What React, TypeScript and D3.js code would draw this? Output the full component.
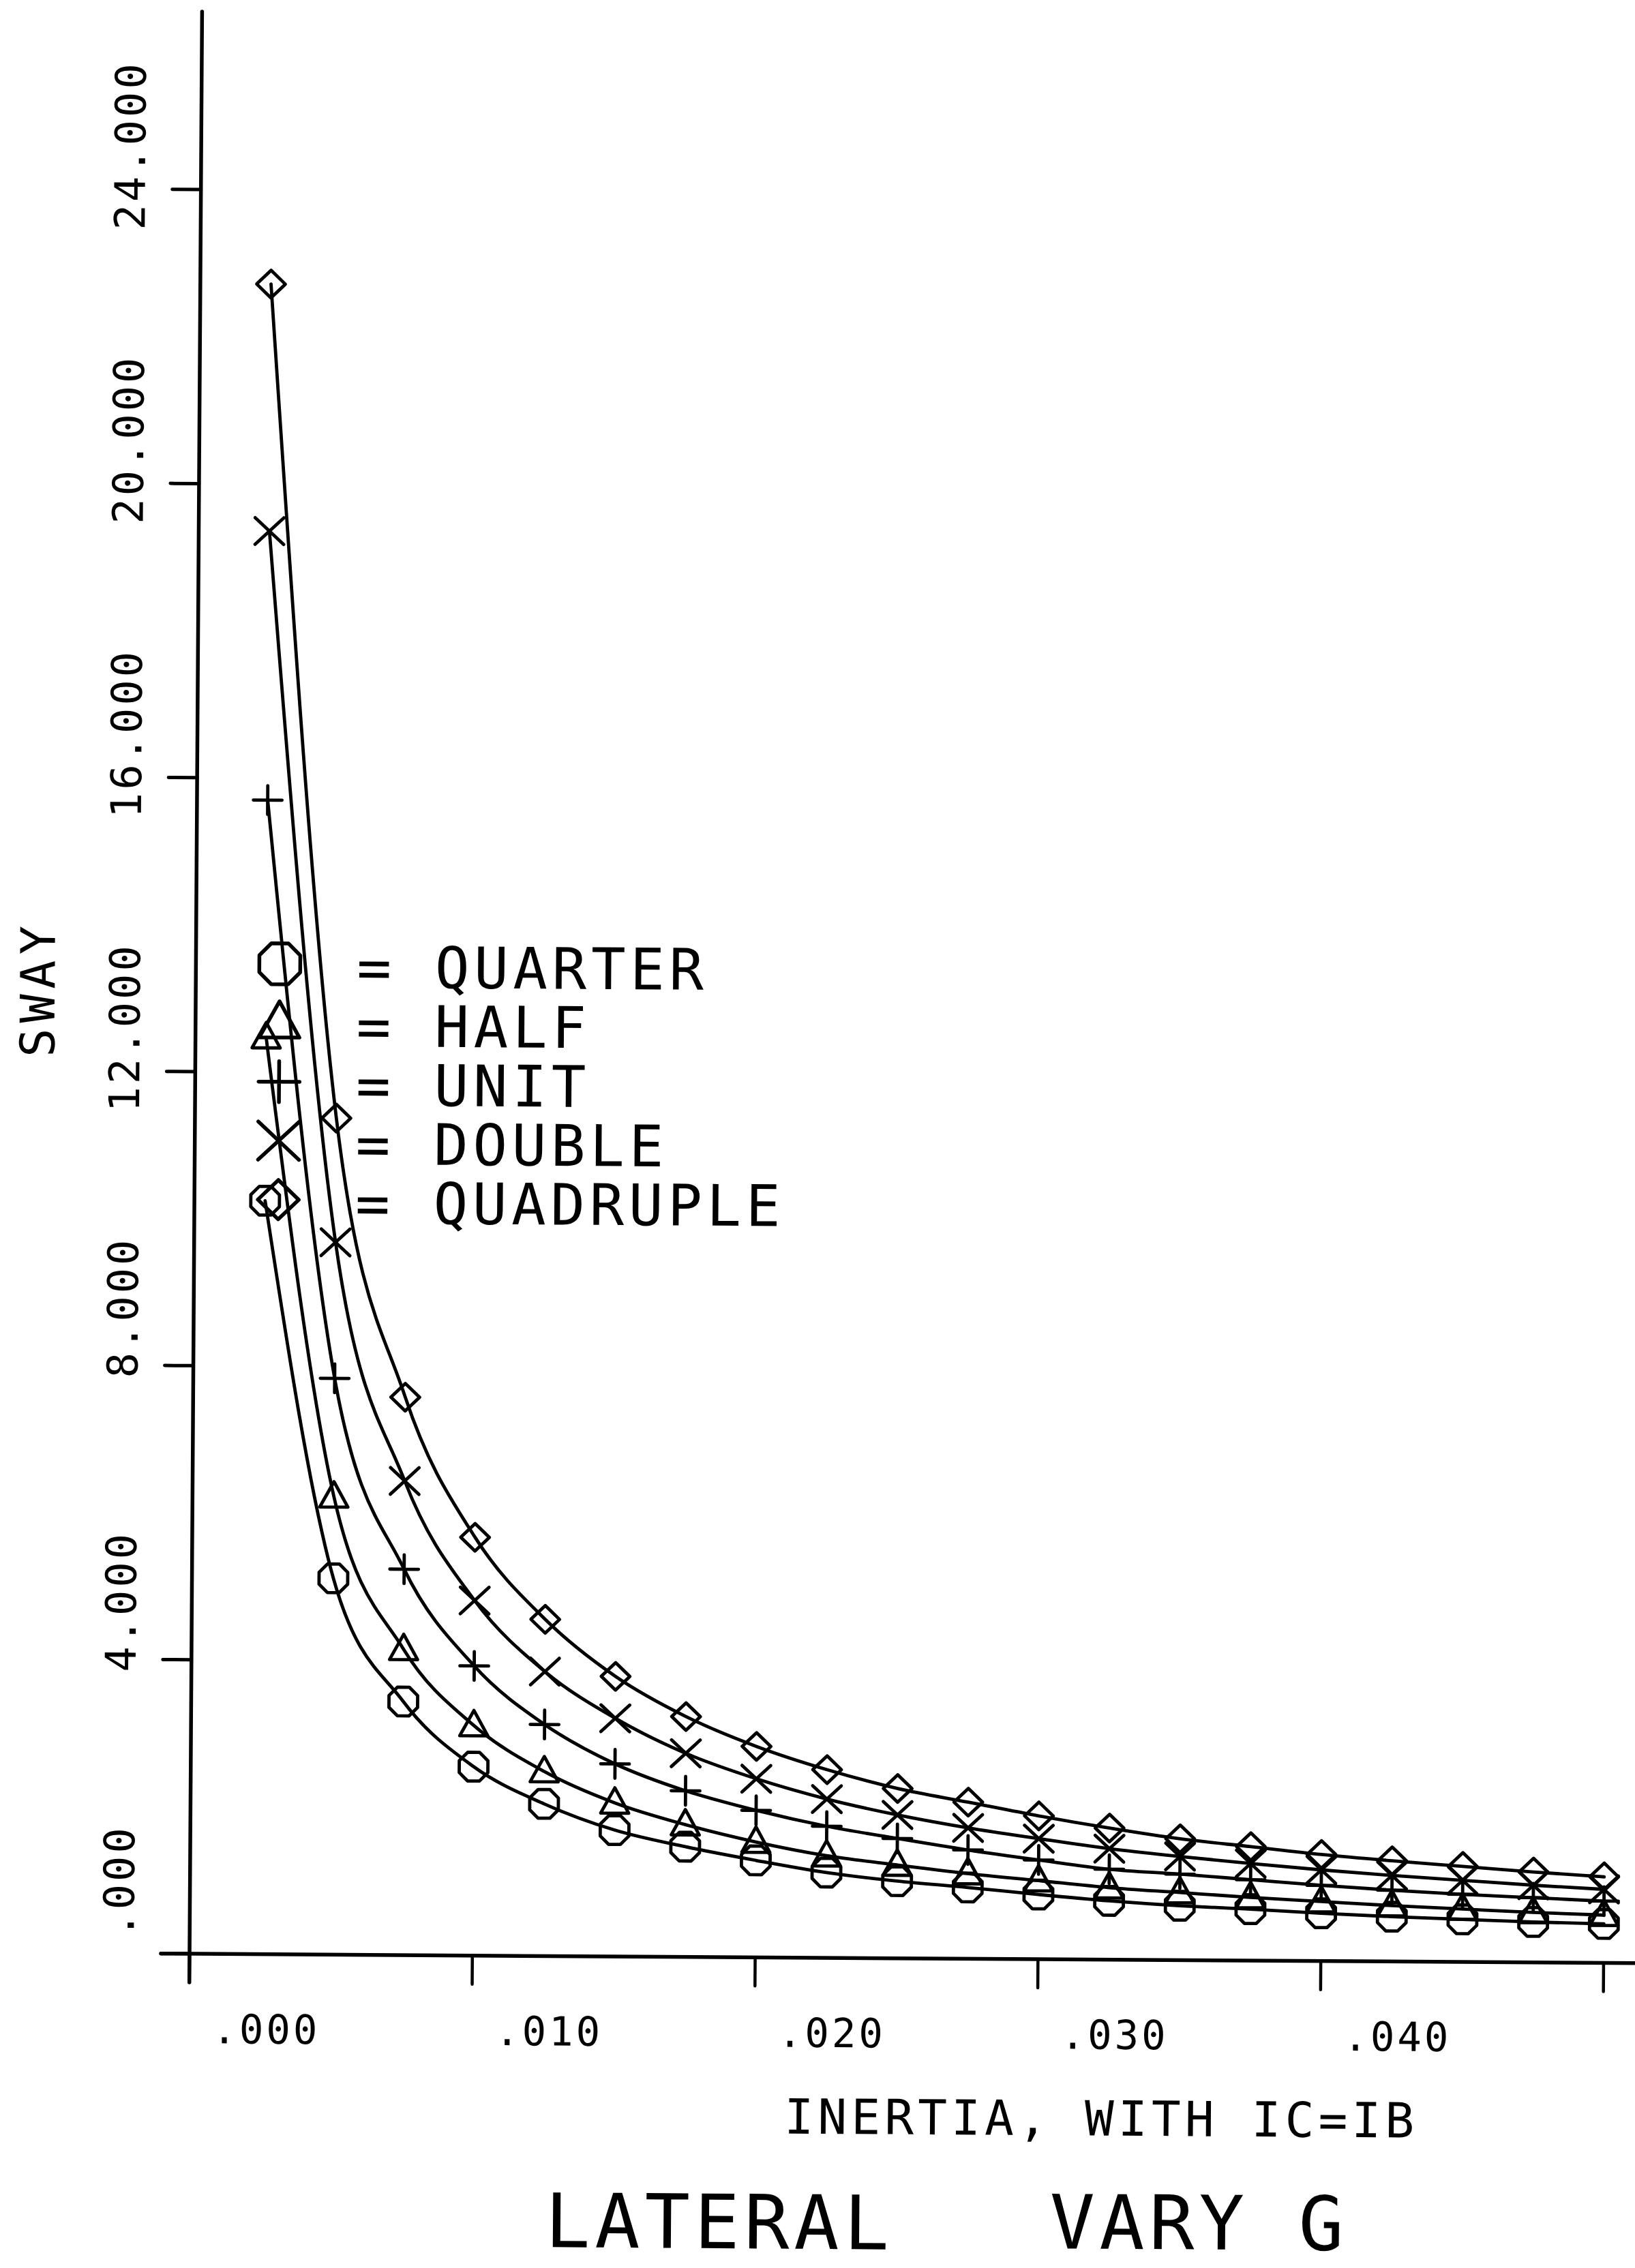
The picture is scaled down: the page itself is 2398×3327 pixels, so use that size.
import * as d3 from "d3";

// inertia values (IC = IB) where sway was computed
const inertia = [
  0.0025, 0.005, 0.0075, 0.01, 0.0125, 0.015, 0.0175, 0.02, 0.0225, 0.025,
  0.0275, 0.03, 0.0325, 0.035, 0.0375, 0.04, 0.0425, 0.045, 0.0475, 0.05,
];

const quarter = [10.25, 5.12, 3.45, 2.57, 2.07, 1.72, 1.5, 1.32, 1.16, 1.05, 0.97, 0.88, 0.8, 0.74, 0.7, 0.65, 0.61, 0.58, 0.55, 0.53];
const half = [12.47, 6.23, 4.16, 3.13, 2.51, 2.09, 1.8, 1.57, 1.39, 1.27, 1.16, 1.07, 0.98, 0.92, 0.86, 0.81, 0.76, 0.72, 0.68, 0.65];
const unit = [15.7, 7.84, 5.25, 3.94, 3.15, 2.62, 2.26, 2.0, 1.79, 1.63, 1.48, 1.35, 1.23, 1.17, 1.1, 1.03, 0.97, 0.92, 0.88, 0.84];
const doubleG = [19.36, 9.69, 6.45, 4.83, 3.87, 3.24, 2.77, 2.43, 2.16, 1.95, 1.78, 1.64, 1.51, 1.41, 1.32, 1.24, 1.17, 1.11, 1.05, 1.0];
const quadruple = [22.72, 11.38, 7.59, 5.69, 4.58, 3.81, 3.27, 2.87, 2.56, 2.31, 2.13, 1.95, 1.79, 1.65, 1.55, 1.45, 1.37, 1.3, 1.23, 1.17];

const legendNames = ["QUARTER", "HALF", "UNIT", "DOUBLE", "QUADRUPLE"];
const markerKinds = ["octagon", "triangle", "plus", "cross", "diamond"];

const yTicks = [0, 4, 8, 12, 16, 20, 24];
const yTickLabels = [".000", "4.000", "8.000", "12.000", "16.000", "20.000", "24.000"];
const xTicks = [0, 0.01, 0.02, 0.03, 0.04, 0.05];
const xTickLabels = [".000", ".010", ".020", ".030", ".040", ""];

const W = 2398;
const H = 3327;
const FONT = "'DejaVu Sans Mono', 'Liberation Mono', monospace";

function markerPath(kind: string, s: number): string {
  const h = s / 2;
  if (kind === "octagon") {
    const r = h / Math.cos(Math.PI / 8);
    const pts = d3.range(8).map((i) => {
      const a = Math.PI / 8 + (i * Math.PI) / 4;
      return [r * Math.cos(a), r * Math.sin(a)];
    });
    return "M" + pts.map((p) => p.join(",")).join("L") + "Z";
  }
  if (kind === "triangle") {
    return `M0,${-h * 1.05}L${h * 0.98},${h * 0.72}L${-h * 0.98},${h * 0.72}Z`;
  }
  if (kind === "plus") {
    return `M${-h},0H${h}M0,${-h}V${h}`;
  }
  if (kind === "cross") {
    return `M${-h},${-h * 0.93}L${h},${h * 0.93}M${-h},${h * 0.93}L${h},${-h * 0.93}`;
  }
  return `M0,${-h * 0.96}L${h},0L0,${h * 0.96}L${-h},0Z`;
}

export default function App() {
  const x = d3.scaleLinear().domain([0, 0.05]).range([278, 2352]);
  const y = d3.scaleLinear().domain([0, 24]).range([2866, 278]);

  const series = [quarter, half, unit, doubleG, quadruple];
  const line = d3
    .line<number>()
    .x((_, i) => x(inertia[i]))
    .y((d) => y(d))
    .curve(d3.curveMonotoneX);

  const x0 = x(0);
  const y0 = y(0);
  const tick = 42;
  const legendX = 401;
  const legendY = d3.scaleLinear().domain([0, 4]).range([1413, 1759]);

  return (
    <svg
      width={W}
      height={H}
      viewBox={`0 0 ${W} ${H}`}
      style={{ position: "absolute", left: 0, top: 0, background: "#fff" }}
    >
      <rect width={W} height={H} fill="#fff" />
      {/* the scanned plot is turned a little clockwise */}
      <g transform={`rotate(0.37 ${x0} ${y0})`} stroke="#000" fill="none" strokeLinecap="round" strokeLinejoin="round">
        {/* axes */}
        <line x1={x0} y1={17} x2={x0} y2={y0 + tick} strokeWidth={5.5} />
        <line x1={x0 - tick} y1={y0} x2={W + 40} y2={y0} strokeWidth={5.5} />
        {yTicks.map((t) => (
          <line key={"yt" + t} x1={x0 - tick} x2={x0} y1={y(t)} y2={y(t)} strokeWidth={5} />
        ))}
        {xTicks.map((t) => (
          <line key={"xt" + t} x1={x(t)} x2={x(t)} y1={y0} y2={y0 + tick} strokeWidth={4.5} />
        ))}

        {/* tick labels */}
        <g fill="#000" stroke="none" fontFamily={FONT}>
          {yTicks.map((t, i) => (
            <text
              key={"yl" + t}
              transform={`translate(196,${y(t) - 188}) rotate(-90)`}
              textAnchor="end"
              fontSize={62}
              letterSpacing={4}
            >
              {yTickLabels[i]}
            </text>
          ))}
          {xTicks.map((t, i) => (
            <text key={"xl" + t} x={x(t) + 34} y={2997} fontSize={59} letterSpacing={4}>
              {xTickLabels[i]}
            </text>
          ))}
          <text transform="translate(71,1452) rotate(-90)" textAnchor="middle" fontSize={70} letterSpacing={8}>
            SWAY
          </text>
          <text x={1152} y={3124} fontSize={71} letterSpacing={6.2}>
            INERTIA, WITH IC=IB
          </text>
          <text x={802} y={3293} fontSize={110} letterSpacing={6.8}>
            LATERAL
          </text>
          <text x={1542} y={3290} fontSize={110} letterSpacing={6.8}>
            VARY G
          </text>
        </g>

        {/* curves */}
        {series.map((s, si) => (
          <path key={"c" + si} d={line(s) || ""} strokeWidth={4.8} />
        ))}
        {series.map((s, si) =>
          s.map((v, i) => (
            <path
              key={"m" + si + "-" + i}
              transform={`translate(${x(inertia[i])},${y(v)})`}
              d={markerPath(markerKinds[si], 42)}
              strokeWidth={4.8}
            />
          ))
        )}

        {/* legend */}
        {legendNames.map((name, i) => (
          <g key={"lg" + name}>
            <path
              transform={`translate(${legendX},${legendY(i)})`}
              d={markerPath(markerKinds[i], 60)}
              strokeWidth={5.5}
            />
            <text
              x={514}
              y={legendY(i) + 34}
              fontSize={84}
              letterSpacing={6.7}
              fill="#000"
              stroke="none"
              fontFamily={FONT}
            >
              {"= " + name}
            </text>
          </g>
        ))}
      </g>
    </svg>
  );
}
